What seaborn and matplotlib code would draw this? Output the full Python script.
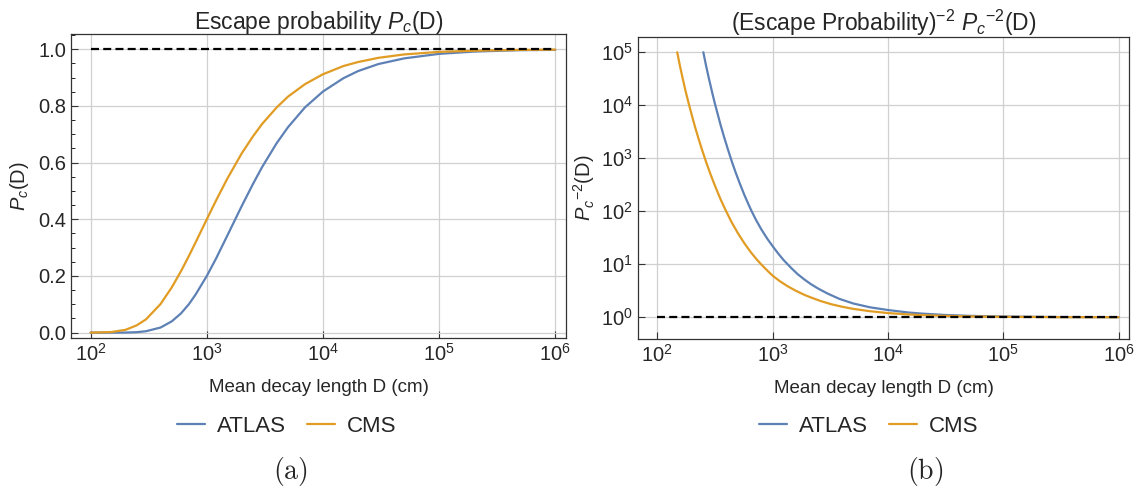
import numpy as np
import pandas as pd
import matplotlib
matplotlib.use("Agg")
import matplotlib.pyplot as plt
import seaborn as sns
from matplotlib.ticker import LogLocator, MultipleLocator, NullLocator
from matplotlib.lines import Line2D

# ---------------- data ----------------
D_left = [100, 150, 200, 250, 300, 400, 500, 600, 700, 800, 1000, 1200, 1500,
          2000, 2500, 3000, 4000, 5000, 7000, 10000, 15000, 20000, 30000,
          50000, 100000, 200000, 500000, 1000000]
atlas_pc = [0.000, 0.000, 0.0003, 0.0016, 0.005, 0.018, 0.040, 0.068, 0.100,
            0.134, 0.200, 0.261, 0.342, 0.447, 0.525, 0.585, 0.669, 0.725,
            0.795, 0.851, 0.898, 0.923, 0.948, 0.968, 0.984, 0.992, 0.997, 0.998]
cms_pc = [0.000, 0.002, 0.010, 0.026, 0.047, 0.101, 0.160, 0.217, 0.270,
          0.318, 0.400, 0.466, 0.543, 0.633, 0.693, 0.737, 0.795, 0.833,
          0.877, 0.912, 0.941, 0.955, 0.970, 0.982, 0.991, 0.995, 0.998, 0.999]

D_atlas_r = [251, 265, 280, 300, 315, 335, 355, 380, 410, 446, 480, 520, 570,
             620, 657, 720, 800, 900, 1000, 1120, 1250, 1443, 1650, 1900,
             2154, 2500, 3000, 3800, 5000, 7000, 10000, 15000, 20000, 31000,
             50000, 100000, 300000, 1000000]
atlas_inv2 = [1.0e5, 5.6e4, 3.26e4, 1.71e4, 1.11e4, 6.7e3, 4.18e3, 2.51e3,
              1.47e3, 835, 529, 333, 202, 133, 101, 68, 45.3, 30.3, 22.0,
              15.9, 11.9, 8.6, 6.5, 5.1, 4.2, 3.45, 2.8, 2.22, 1.82, 1.54,
              1.37, 1.23, 1.17, 1.105, 1.064, 1.031, 1.010, 1.003]
D_cms_r = [149, 158, 167, 176, 186, 198, 212, 228, 245, 265, 290, 320, 355,
           390, 440, 500, 570, 650, 720, 795, 900, 1000, 1150, 1350, 1600,
           1900, 2154, 2600, 3200, 4000, 5000, 7000, 10000, 15000, 20000,
           30000, 50000, 100000, 300000, 1000000]
cms_inv2 = [1.0e5, 5.3e4, 3.07e4, 1.86e4, 1.15e4, 6.9e3, 4.0e3, 2.35e3,
            1.43e3, 857, 496, 286, 166, 107, 63, 38.7, 24.8, 16.7, 12.7, 10.0,
            7.6, 6.1, 4.83, 3.85, 3.14, 2.63, 2.36, 2.03, 1.77, 1.58, 1.44,
            1.30, 1.20, 1.13, 1.096, 1.063, 1.037, 1.018, 1.006, 1.002]

ref_D = [100, 1000000]
ref_val = [1.0, 1.0]

detectors = ["ATLAS", "CMS"]
colors = {"ATLAS": "#5E81B5", "CMS": "#E19C24"}

df_left = pd.DataFrame({
    "D": D_left + D_left,
    "P": atlas_pc + cms_pc,
    "det": ["ATLAS"] * len(D_left) + ["CMS"] * len(D_left),
})
df_right = pd.DataFrame({
    "D": D_atlas_r + D_cms_r,
    "P": atlas_inv2 + cms_inv2,
    "det": ["ATLAS"] * len(D_atlas_r) + ["CMS"] * len(D_cms_r),
})
df_ref = pd.DataFrame({"D": ref_D, "P": ref_val})

# ---------------- style ----------------
sns.set_theme(style="white")
plt.rcParams['font.family'] = ['Liberation Sans', 'DejaVu Sans']
plt.rcParams['mathtext.fontset'] = 'custom'
plt.rcParams['mathtext.rm'] = 'Liberation Sans'
plt.rcParams['mathtext.it'] = 'Liberation Sans:italic'
plt.rcParams['mathtext.default'] = 'regular'

fig = plt.figure(figsize=(11.38, 4.93), dpi=100)
axL = fig.add_axes([0.0626, 0.3138, 0.4345, 0.6166])
axR = fig.add_axes([0.5606, 0.3124, 0.4315, 0.6132])

lw = 1.6
for ax, df in ((axL, df_left), (axR, df_right)):
    sns.lineplot(data=df, x="D", y="P", hue="det", hue_order=detectors,
                 palette=colors, linewidth=lw, ax=ax, legend=False, sort=False,
                 estimator=None)
    sns.lineplot(data=df_ref, x="D", y="P", color="black", linewidth=1.6,
                 linestyle=(0, (3.6, 1.9)), ax=ax, legend=False)
    ax.set_xscale("log")
    ax.set_xlim(10 ** 1.833, 10 ** 6.09)
    ax.xaxis.set_major_locator(LogLocator(base=10, numticks=10))
    ax.xaxis.set_minor_locator(NullLocator())
    ax.grid(True, which="major", color="#d0d0d0", linewidth=0.9)
    ax.tick_params(axis="both", which="major", labelsize=14.5, direction="in",
                   length=5, width=0.8, color="#333333", left=True, bottom=True)
    for s in ax.spines.values():
        s.set_color("#333333")
        s.set_linewidth(0.9)
    ax.set_xlabel("Mean decay length D (cm)", fontsize=13.5, labelpad=10)

# left panel
axL.set_ylim(-0.02, 1.053)
axL.yaxis.set_major_locator(MultipleLocator(0.2))
axL.yaxis.set_minor_locator(MultipleLocator(0.05))
axL.tick_params(axis="y", which="minor", direction="in", length=3, width=0.7,
                left=True)
axL.set_yticks([0, 0.2, 0.4, 0.6, 0.8, 1.0])
axL.set_yticklabels(["0.0", "0.2", "0.4", "0.6", "0.8", "1.0"])
axL.set_ylabel(r"$\mathit{P_c}$(D)", fontsize=14.5, labelpad=5)
axL.set_title(r"Escape probability $\mathit{P_c}$(D)", fontsize=16.5, pad=4)

# right panel
axR.set_yscale("log")
axR.set_ylim(10 ** -0.41, 10 ** 5.294)
axR.yaxis.set_major_locator(LogLocator(base=10, numticks=10))
axR.yaxis.set_minor_locator(NullLocator())
axR.set_ylabel(r"$\mathit{P_c}^{-2}$(D)", fontsize=14.5, labelpad=3)
axR.set_title(r"(Escape Probability)$^{-2}$ $\mathit{P_c}^{-2}$(D)",
              fontsize=16.5, pad=4)

# legends
handles = [Line2D([0], [0], color=colors[d], lw=lw) for d in detectors]
for ax, xc in ((axL, 0.4355), (axR, 0.47)):
    ax.legend(handles, detectors, loc="center", bbox_to_anchor=(xc, -0.29),
              ncol=2, frameon=False, fontsize=16, handlelength=1.25,
              columnspacing=0.95, handletextpad=0.55)

# sub-captions
plt.rcParams['mathtext.fontset'] = 'cm'
fig.text(290 / 1138, 1 - 472 / 493, r"$\mathrm{(a)}$", ha="center",
         va="center", fontsize=20)
fig.text(925 / 1138, 1 - 472 / 493, r"$\mathrm{(b)}$", ha="center",
         va="center", fontsize=20)

fig.savefig("out.png", dpi=100)
